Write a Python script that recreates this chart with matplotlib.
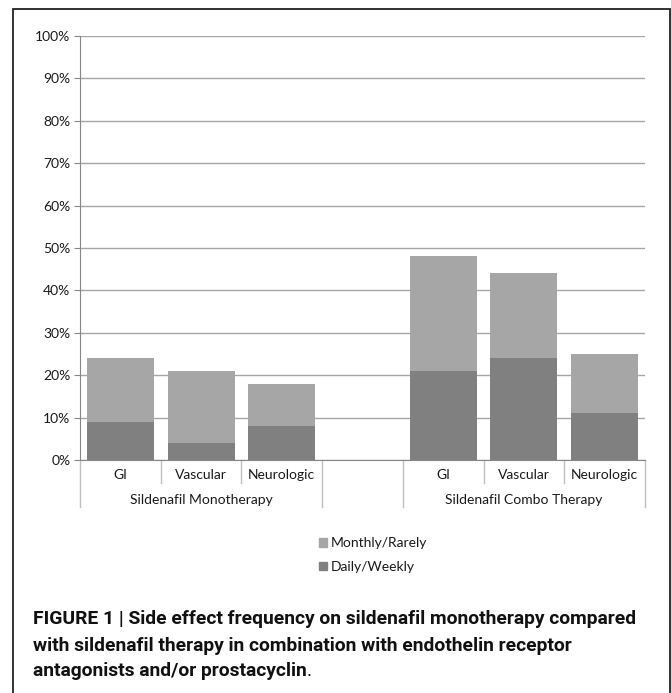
import matplotlib
matplotlib.use("Agg")
import matplotlib.pyplot as plt
from matplotlib.patches import Rectangle, Patch
from matplotlib.transforms import blended_transform_factory
import numpy as np

# ---- data ----
categories = ["GI", "Vascular", "Neurologic", "", "GI", "Vascular", "Neurologic"]
groups = ["Sildenafil Monotherapy", "", "Sildenafil Combo Therapy"]
group_sizes = [3, 1, 3]
daily_weekly = [9, 4, 8, None, 21, 24, 11]
monthly_rarely = [15, 17, 10, None, 27, 20, 14]
series_names = ["Monthly/Rarely", "Daily/Weekly"]
ytick_values = [0, 10, 20, 30, 40, 50, 60, 70, 80, 90, 100]
caption_lines = [
    "FIGURE 1 | Side effect frequency on sildenafil monotherapy compared",
    "with sildenafil therapy in combination with endothelin receptor",
    "antagonists and/or prostacyclin",
]

W, H = 671, 693
fig = plt.figure(figsize=(W / 100, H / 100), dpi=100)
FONT = ["Lato", "DejaVu Sans"]
CAPFONT = ["Roboto", "DejaVu Sans"]

c_dark = "#808080"
c_light = "#a6a6a6"

left, right = 80 / W, 645 / W
bottom, top = 1 - 460 / H, 1 - 36 / H
ax = fig.add_axes([left, bottom, right - left, top - bottom])

x = np.arange(len(categories))
idx = [i for i, v in enumerate(daily_weekly) if v is not None]
dw = np.array([daily_weekly[i] for i in idx], dtype=float)
mr = np.array([monthly_rarely[i] for i in idx], dtype=float)
bw = 0.83
ax.bar(x[idx], dw, width=bw, color=c_dark, zorder=3)
ax.bar(x[idx], mr, bottom=dw, width=bw, color=c_light, zorder=3)

ax.set_xlim(-0.5, len(categories) - 0.5)
ax.set_ylim(0, 100)
ax.set_yticks(ytick_values)
ax.set_yticklabels([f"{v}%" for v in ytick_values], fontsize=10, family=FONT, color="#1a1a1a")
ax.yaxis.grid(True, color="#a6a6a6", linewidth=1.0, zorder=0)
ax.set_axisbelow(True)
ax.set_xticks([])
for s in ["top", "right"]:
    ax.spines[s].set_visible(False)
ax.spines["left"].set_color("#868686")
ax.spines["bottom"].set_color("#868686")
ax.tick_params(axis="y", length=4, color="#868686", pad=3)

trans = blended_transform_factory(ax.transData, ax.transAxes)
axh = 424.0
# divider lines
bounds = np.cumsum([0] + group_sizes) - 0.5
for b in np.arange(-0.5, len(categories)):
    long_ = np.any(np.isclose(bounds, b))
    yend = -(47 if long_ else 23) / axh
    ax.plot([b, b], [0, yend], transform=trans, color="#c0c0c0",
            linewidth=1.0, clip_on=False)
for i, c in enumerate(categories):
    if c:
        ax.text(i, -15 / axh, c, transform=trans, ha="center", va="center",
                fontsize=10, family=FONT, color="#1a1a1a")
start = 0
for g, n in zip(groups, group_sizes):
    if g:
        ax.text(start + (n - 1) / 2, -40 / axh, g, transform=trans, ha="center",
                va="center", fontsize=10, family=FONT, color="#1a1a1a")
    start += n

handles = [Patch(color=c_light), Patch(color=c_dark)]
fig.legend(handles, series_names, loc="center left",
           bbox_to_anchor=(306 / W, 1 - 555 / H), frameon=False,
           handlelength=0.6, handleheight=0.6, handletextpad=0.25,
           labelspacing=0.85, prop={"family": FONT, "size": 10}, labelcolor="#1a1a1a")

# caption
ys = [619, 646, 671]
texts = []
for line, yy in zip(caption_lines, ys):
    t = fig.text(33 / W, 1 - yy / H, line, ha="left", va="center", fontsize=13.9,
                 fontweight="bold", family=CAPFONT, color="#111111")
    texts.append(t)
ax.annotate(".", xy=(1, 0.5), xycoords=texts[-1], ha="left", va="center",
            fontsize=13.9, family=CAPFONT, color="#111111", annotation_clip=False)

# outer frame
fig.patches.append(Rectangle((13 / W, -0.05), (670 - 13) / W, 1.05 - 9 / H,
                             transform=fig.transFigure, fill=False,
                             edgecolor="#222222", linewidth=1.3))

fig.savefig("out.png", dpi=100)
